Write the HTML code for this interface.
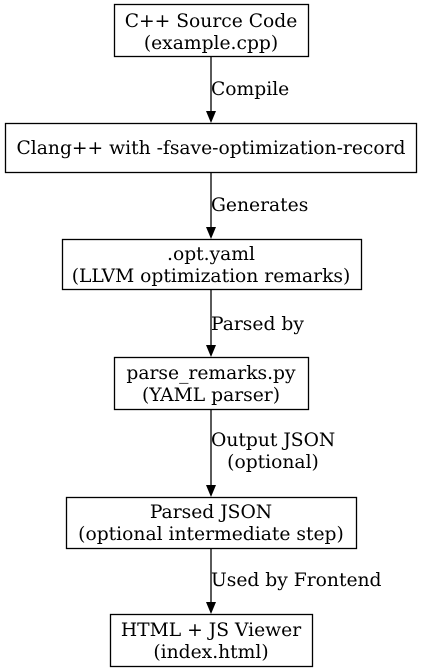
<!DOCTYPE html>
<html><head><style>
html,body{margin:0;padding:0;background:#fff;}
svg{display:block;}
text{font-family:"DejaVu Serif","Liberation Serif",serif;font-size:18.7px;fill:#000;}
</style></head><body>
<svg width="423" height="672" viewBox="0 0 423 672" xmlns="http://www.w3.org/2000/svg">
<g fill="none" stroke="#000" stroke-width="1.3">
<rect x="114.5" y="4.5" width="194" height="52"/>
<rect x="5.5" y="123.5" width="411" height="49"/>
<rect x="62.5" y="239.5" width="299" height="50"/>
<rect x="114.5" y="357.5" width="194" height="52"/>
<rect x="66.5" y="497.5" width="290" height="51"/>
<rect x="110.5" y="614.5" width="202" height="52"/>
<line x1="211" y1="57" x2="211" y2="111"/>
<line x1="211" y1="173" x2="211" y2="227"/>
<line x1="211" y1="290" x2="211" y2="345"/>
<line x1="211" y1="410" x2="211" y2="485"/>
<line x1="211" y1="549" x2="211" y2="602"/>
</g>
<g fill="#000">
<polygon points="206,111 216,111 211,123"/>
<polygon points="206,227 216,227 211,239"/>
<polygon points="206,345 216,345 211,357"/>
<polygon points="206,485 216,485 211,497"/>
<polygon points="206,602 216,602 211,614"/>
</g>
<g text-anchor="middle">
<text x="211" y="27">C++ Source Code</text>
<text x="211" y="49">(example.cpp)</text>
<text x="211" y="154" textLength="389" lengthAdjust="spacingAndGlyphs">Clang++ with -fsave-optimization-record</text>
<text x="211" y="260">.opt.yaml</text>
<text x="211" y="282">(LLVM optimization remarks)</text>
<text x="211" y="379">parse_remarks.py</text>
<text x="211" y="401">(YAML parser)</text>
<text x="211" y="518">Parsed JSON</text>
<text x="211" y="540">(optional intermediate step)</text>
<text x="211" y="636">HTML + JS Viewer</text>
<text x="211" y="658">(index.html)</text>
<text x="273" y="468">(optional)</text>
</g>
<g>
<text x="211" y="95">Compile</text>
<text x="211" y="211">Generates</text>
<text x="211" y="330">Parsed by</text>
<text x="211" y="446">Output JSON</text>
<text x="211" y="586">Used by Frontend</text>
</g>
</svg>
</body></html>
